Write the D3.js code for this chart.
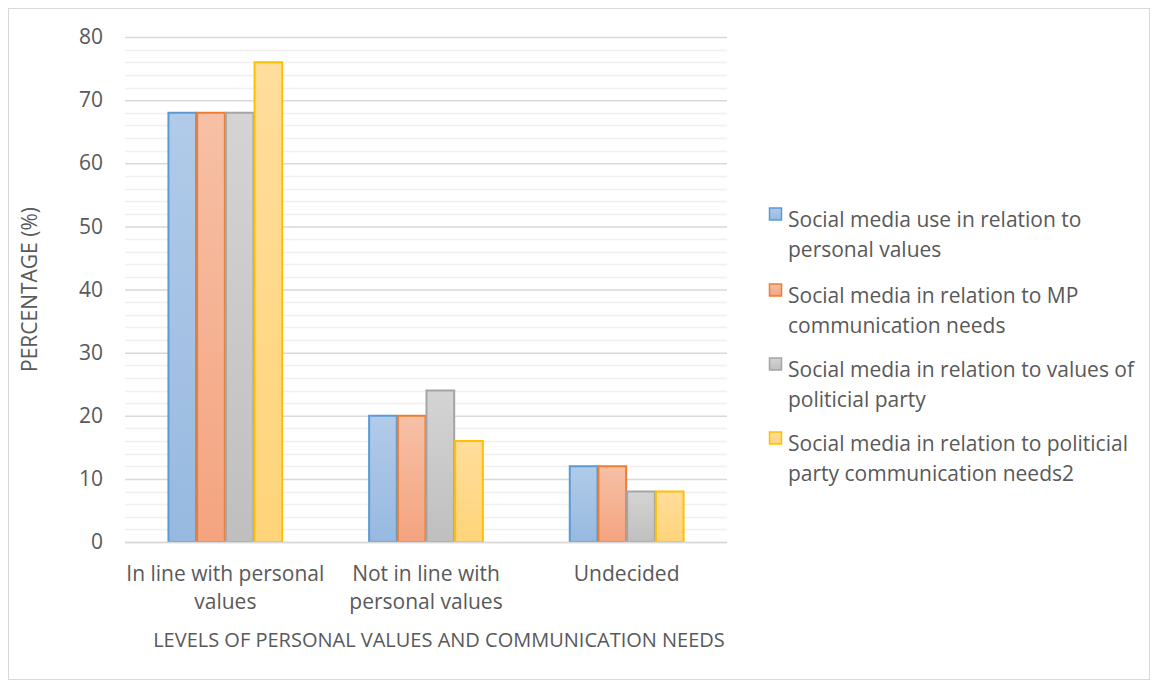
<!DOCTYPE html>
<html>
<head>
<meta charset="utf-8">
<script src="https://cdn.jsdelivr.net/npm/d3@7"></script>
<style>
  html, body { margin: 0; padding: 0; background: #fff; }
  svg { display: block; font-family: "Open Sans", Lato, sans-serif; }
</style>
</head>
<body>
<svg id="chart" width="1158" height="686"></svg>
<script>
// Category groups along the x axis (each label wraps onto two lines)
const categories = [
  ["In line with personal", "values"],
  ["Not in line with", "personal values"],
  ["Undecided"]
];
const categoryKeys = ["inline", "notinline", "undecided"];

// Series names as shown in the legend
const seriesNames = [
  ["Social media use in relation to", "personal values"],
  ["Social media in relation to MP", "communication needs"],
  ["Social media in relation to values of", "politicial party"],
  ["Social media in relation to politicial", "party communication needs2"]
];

// Percentages per series, ordered like the categories
const seriesValues = [
  [68, 20, 12],
  [68, 20, 12],
  [68, 24, 8],
  [76, 16, 8]
];

const yTicks = [0, 10, 20, 30, 40, 50, 60, 70, 80];

// Colour styling per series: border, gradient top, gradient bottom
const seriesStroke = ["#5b9bd5", "#ed7d31", "#a5a5a5", "#ffc000"];
const seriesTop = ["#b1cbe9", "#f7c0a6", "#d4d4d4", "#ffdd9c"];
const seriesBottom = ["#97b9e0", "#f4a47f", "#bfbfbf", "#ffd479"];

const textColor = "#595959";
const svg = d3.select("#chart");

// Outer chart frame
svg.append("rect")
  .attr("x", 8.5).attr("y", 8.5)
  .attr("width", 1141).attr("height", 671)
  .attr("fill", "#fff").attr("stroke", "#d9d9d9").attr("stroke-width", 1);

const plot = { left: 125, right: 727, top: 37, bottom: 542 };

const x0 = d3.scaleBand()
  .domain(categoryKeys)
  .range([plot.left, plot.right])
  .paddingInner(0).paddingOuter(0);

// bars take ~57% of each category slot
const x1 = d3.scaleBand()
  .domain(d3.range(seriesValues.length))
  .range([0, x0.bandwidth() * 0.572]);

const y = d3.scaleLinear().domain([0, 80]).range([plot.bottom, plot.top]);

// Gradients for bar fills
const defs = svg.append("defs");
seriesStroke.forEach((c, i) => {
  const g = defs.append("linearGradient")
    .attr("id", "grad" + i)
    .attr("x1", 0).attr("y1", 0).attr("x2", 0).attr("y2", 1);
  g.append("stop").attr("offset", "0%").attr("stop-color", seriesTop[i]);
  g.append("stop").attr("offset", "100%").attr("stop-color", seriesBottom[i]);
});

// Minor gridlines every 2 units
const minor = d3.range(0, 81, 2).filter(v => v % 10 !== 0);
svg.append("g").selectAll("line").data(minor).join("line")
  .attr("x1", plot.left).attr("x2", plot.right)
  .attr("y1", d => Math.round(y(d)) + 0.5).attr("y2", d => Math.round(y(d)) + 0.5)
  .attr("stroke", "#f0f0f0").attr("stroke-width", 1.5);

// Major gridlines via axis
const yAxis = d3.axisLeft(y).tickValues(yTicks).tickSize(-(plot.right - plot.left)).tickPadding(22);
const gy = svg.append("g").attr("transform", `translate(${plot.left},0)`).call(yAxis);
gy.select(".domain").remove();
gy.selectAll(".tick line").attr("stroke", "#d9d9d9").attr("stroke-width", 1.5);
gy.selectAll(".tick text")
  .attr("fill", textColor).style("font-size", "21px")
  .style("font-family", "'Open Sans', Lato, sans-serif");

// Bars
const groups = svg.append("g").selectAll("g").data(categoryKeys).join("g")
  .attr("transform", d => `translate(${x0(d) + (x0.bandwidth() - x1.range()[1]) / 2},0)`);

groups.selectAll("rect")
  .data((d, ci) => seriesValues.map((vals, si) => ({ si, v: vals[ci] })))
  .join("rect")
  .attr("x", d => x1(d.si) + 0.5)
  .attr("width", x1.bandwidth() - 1)
  .attr("y", d => y(d.v))
  .attr("height", d => y(0) - y(d.v))
  .attr("fill", d => `url(#grad${d.si})`)
  .attr("stroke", d => seriesStroke[d.si])
  .attr("stroke-width", 2);

// Baseline
svg.append("line")
  .attr("x1", plot.left).attr("x2", plot.right)
  .attr("y1", y(0) + 0.5).attr("y2", y(0) + 0.5)
  .attr("stroke", "#d9d9d9").attr("stroke-width", 1.5);

// Category labels
const catLabels = svg.append("g").selectAll("text").data(categoryKeys).join("text")
  .attr("text-anchor", "middle")
  .attr("fill", textColor)
  .style("font-size", "21px");
catLabels.each(function (d, i) {
  const t = d3.select(this);
  categories[i].forEach((line, li) => {
    t.append("tspan")
      .attr("x", x0(d) + x0.bandwidth() / 2)
      .attr("y", 581 + li * 28)
      .text(line);
  });
});

// Axis titles
svg.append("text")
  .attr("x", 439).attr("y", 647)
  .attr("text-anchor", "middle").attr("fill", textColor)
  .style("font-size", "20px")
  .text("LEVELS OF PERSONAL VALUES AND COMMUNICATION NEEDS");

svg.append("text")
  .attr("transform", `translate(37,${(plot.top + plot.bottom) / 2}) rotate(-90)`)
  .attr("text-anchor", "middle").attr("fill", textColor)
  .style("font-size", "21px")
  .text("PERCENTAGE (%)");

// Legend
const legendTop = [220, 296, 370, 444];
const legend = svg.append("g").selectAll("g").data(seriesNames).join("g")
  .attr("transform", (d, i) => `translate(769,${legendTop[i]})`);
legend.append("rect")
  .attr("x", 0.5).attr("y", -12).attr("width", 12).attr("height", 12)
  .attr("fill", (d, i) => `url(#grad${i})`)
  .attr("stroke", (d, i) => seriesStroke[i]).attr("stroke-width", 1.5);
legend.append("text")
  .attr("fill", textColor).style("font-size", "21px")
  .each(function (d) {
    const t = d3.select(this);
    d.forEach((line, li) => {
      t.append("tspan").attr("x", 19).attr("y", 7 + li * 30).text(line);
    });
  });
</script>
</body>
</html>
